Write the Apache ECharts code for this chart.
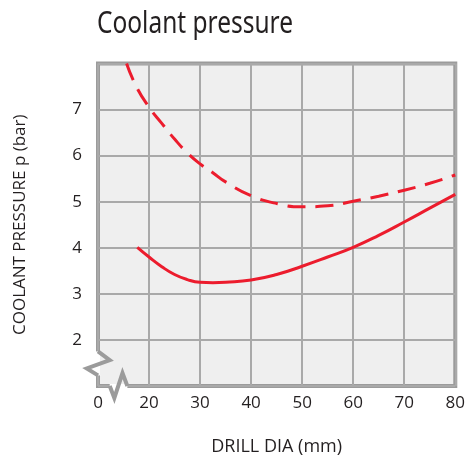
<!DOCTYPE html>
<html>
<head>
<meta charset="utf-8">
<script src="https://cdn.jsdelivr.net/npm/echarts@6/dist/echarts.min.js"></script>
<style>
  html, body { margin: 0; padding: 0; background: #ffffff; }
  #chart { width: 468px; height: 461px; }
</style>
</head>
<body>
<div id="chart"></div>
<script>
// Coolant pressure vs drill diameter
const titleText = 'Coolant pressure';
const xAxisName = 'DRILL DIA (mm)';
const yAxisName = 'COOLANT PRESSURE p (bar)';

// Upper (dashed) curve: drill dia (mm) and pressure (bar)
const dashedDia = [15.6, 17.5, 20, 22.5, 25, 27.5, 30, 32.5, 35, 40, 45, 50, 55, 60, 65, 70, 75, 80];
const dashedP   = [8.0, 7.5, 7.05, 6.7, 6.36, 6.06, 5.82, 5.63, 5.43, 5.13, 4.96, 4.89, 4.91, 5.01, 5.12, 5.25, 5.4, 5.58];

// Lower (solid) curve
const solidDia = [17.7, 20, 22.5, 25, 27.5, 30, 32.5, 35, 40, 45, 50, 55, 60, 65, 70, 75, 80];
const solidP   = [4.01, 3.8, 3.59, 3.42, 3.31, 3.25, 3.24, 3.25, 3.3, 3.42, 3.6, 3.8, 4.01, 4.27, 4.56, 4.86, 5.16];

// Axis ranges; the x axis starts at a break, labelled 0
const xMin = 10, xMax = 80, xStep = 10;
const yMin = 1, yMax = 8, yStep = 1;

const RED = '#ec1c2d';
const BORDER = '#9b9b9b';
const GRIDLINE = '#a9a9a9';
const PLOT_BG = '#efefef';
const INK = '#231f20';
const FONT = "'Open Sans', 'Noto Sans', sans-serif";

const zip = (xs, ys) => xs.map((x, i) => [x, ys[i]]);

const chart = echarts.init(document.getElementById('chart'), null, { renderer: 'canvas' });

chart.setOption({
  animation: false,
  backgroundColor: '#ffffff',
  grid: {
    left: 98, right: 8, top: 63.5, bottom: 73,
    show: true,
    backgroundColor: PLOT_BG,
    borderColor: BORDER,
    borderWidth: 4,
    containLabel: false
  },
  xAxis: {
    type: 'value',
    min: xMin, max: xMax, interval: xStep,
    name: xAxisName,
    nameLocation: 'middle',
    nameGap: 52,
    nameTextStyle: { fontFamily: FONT, fontSize: 18, color: INK },
    axisLine: { show: false },
    axisTick: { show: false },
    axisLabel: {
      margin: 9,
      fontFamily: FONT, fontSize: 17, color: INK,
      formatter: v => (v === xMin ? '0' : String(v))
    },
    splitLine: { show: true, lineStyle: { color: GRIDLINE, width: 2 } }
  },
  yAxis: {
    type: 'value',
    min: yMin, max: yMax, interval: yStep,
    name: yAxisName,
    nameLocation: 'middle',
    nameGap: 69,
    nameRotate: 90,
    nameTextStyle: { fontFamily: FONT, fontSize: 17, color: INK },
    axisLine: { show: false },
    axisTick: { show: false },
    axisLabel: {
      margin: 16,
      fontFamily: FONT, fontSize: 17, color: INK,
      formatter: v => (v === yMin || v === yMax ? '' : String(v))
    },
    splitLine: { show: true, lineStyle: { color: GRIDLINE, width: 2 } }
  },
  series: [
    {
      type: 'line',
      name: 'upper',
      data: zip(dashedDia, dashedP),
      smooth: 0.5,
      symbol: 'none',
      clip: true,
      lineStyle: { color: RED, width: 3, type: [18, 10] }
    },
    {
      type: 'line',
      name: 'lower',
      data: zip(solidDia, solidP),
      smooth: 0.5,
      symbol: 'none',
      clip: true,
      lineStyle: { color: RED, width: 3 }
    }
  ]
});

// Axis-break zigzags on the left and bottom frame edges (data units)
function px(x, y) { return chart.convertToPixel({ gridIndex: 0 }, [x, y]); }
const leftBreak = [[xMin, 1.75], [12.3, 1.56], [7.8, 1.38], [xMin, 1.23]];
const bottomBreak = [[12.3, yMin], [13.2, 0.74], [14.8, 1.28], [15.75, yMin]];
const lp = leftBreak.map(p => px(p[0], p[1]));
const bp = bottomBreak.map(p => px(p[0], p[1]));

chart.setOption({
  graphic: [
    // condensed heading
    {
      type: 'text', x: 97, y: 9, scaleX: 0.79, z: 100,
      style: {
        text: titleText,
        fontFamily: "'Noto Sans', 'Open Sans', sans-serif",
        fontSize: 31,
        fill: INK,
        textVerticalAlign: 'top'
      }
    },
    // hide the straight frame where the breaks sit
    { type: 'rect', z: 100, shape: { x: lp[0][0] - 3, y: lp[0][1], width: 6, height: lp[3][1] - lp[0][1] }, style: { fill: '#ffffff' } },
    { type: 'rect', z: 100, shape: { x: bp[0][0], y: bp[0][1] - 3, width: bp[3][0] - bp[0][0], height: 6 }, style: { fill: '#ffffff' } },
    { type: 'rect', z: 100, shape: { x: lp[0][0] + 2, y: lp[0][1], width: 4, height: lp[3][1] - lp[0][1] }, style: { fill: PLOT_BG } },
    { type: 'rect', z: 100, shape: { x: bp[0][0], y: bp[0][1] - 6, width: bp[3][0] - bp[0][0], height: 4 }, style: { fill: PLOT_BG } },
    { type: 'polyline', z: 101, shape: { points: lp }, style: { stroke: BORDER, lineWidth: 4, fill: null, lineJoin: 'miter' } },
    { type: 'polyline', z: 101, shape: { points: bp }, style: { stroke: BORDER, lineWidth: 4, fill: null, lineJoin: 'miter' } }
  ]
});
</script>
</body>
</html>
